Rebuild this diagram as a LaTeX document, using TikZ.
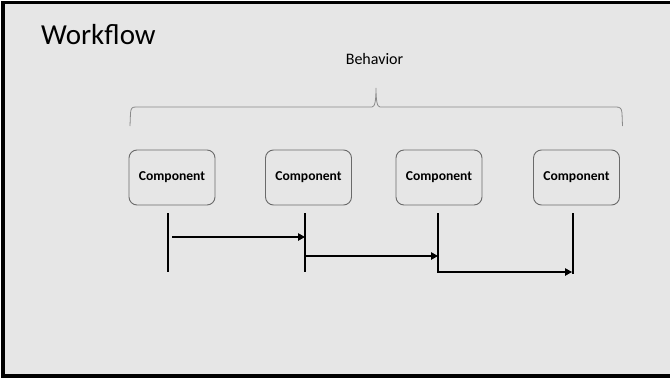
\documentclass[tikz,border=0pt]{standalone}
\usepackage{fontspec}
\setmainfont{Carlito}
\usetikzlibrary{arrows.meta}

\definecolor{slidebg}{HTML}{E6E6E6}
\definecolor{boxline}{HTML}{6A6A6A}
\definecolor{braceline}{HTML}{8A8A8A}

\tikzset{
  compbox/.style={draw=boxline, line width=0.9pt, rounded corners=8pt,
    minimum width=86pt, minimum height=55pt, inner sep=0pt,
    font=\fontsize{13.6}{14}\selectfont\bfseries},
  lifeline/.style={line width=1.9pt, black},
  msg/.style={line width=1.2pt, black, -{Triangle[length=7pt,width=7.5pt]}},
}

\begin{document}
\begin{tikzpicture}[x=1pt,y=-1pt]
  \useasboundingbox (0,0) rectangle (670,381);
  \fill[white] (0,0) rectangle (670,381);
  \begin{scope}
    \clip (0,0) rectangle (670,381);
    \fill[slidebg] (3,2.5) rectangle (675,376);
    \draw[black, line width=3.2pt] (3,2.5) rectangle (675,376);
  \end{scope}

  % title and group label
  \node[anchor=base west, inner sep=0pt, font=\fontsize{29}{29}\selectfont] (title) at (41,44) {Workflow};
  \node[anchor=base, inner sep=0pt, font=\fontsize{16}{16}\selectfont] (behavior) at (374.5,64) {Behavior};

  % curly brace over the components
  \draw[braceline, line width=0.8pt]
    (130,126) -- (130.5,113) .. controls (131,108) and (132,107) .. (136,107)
    -- (372,107) .. controls (375,107) and (376,100) .. (376,88)
    .. controls (376,100) and (377,107) .. (380,107)
    -- (616,107) .. controls (620,107) and (621.5,108) .. (622,113) -- (622.5,126);

  % components
  \node[compbox] (c1) at (172,177.5) {Component};
  \node[compbox] (c2) at (308.5,177.5) {Component};
  \node[compbox] (c3) at (439,177.5) {Component};
  \node[compbox] (c4) at (576.5,177.5) {Component};

  % lifeline end points
  \coordinate (l1t) at (168,213);  \coordinate (l1b) at (168,272);
  \coordinate (l2t) at (305,213);  \coordinate (l2b) at (305,272);
  \coordinate (l3t) at (438,213);  \coordinate (l3b) at (438,272);
  \coordinate (l4t) at (573,213);  \coordinate (l4b) at (573,274);

  \draw[lifeline] (l1t) -- (l1b);
  \draw[lifeline] (l2t) -- (l2b);
  \draw[lifeline] (l4t) -- (l4b);

  % messages
  \coordinate (m1s) at (172,237);
  \draw[msg] (m1s) -- (l2t |- m1s);
  \coordinate (m2s) at (305,256);
  \draw[msg] (m2s) -- (l3t |- m2s);
  \draw[msg] (l3t) -- (l3b) -- ([xshift=-1pt]l4t |- l3b);
\end{tikzpicture}
\end{document}
